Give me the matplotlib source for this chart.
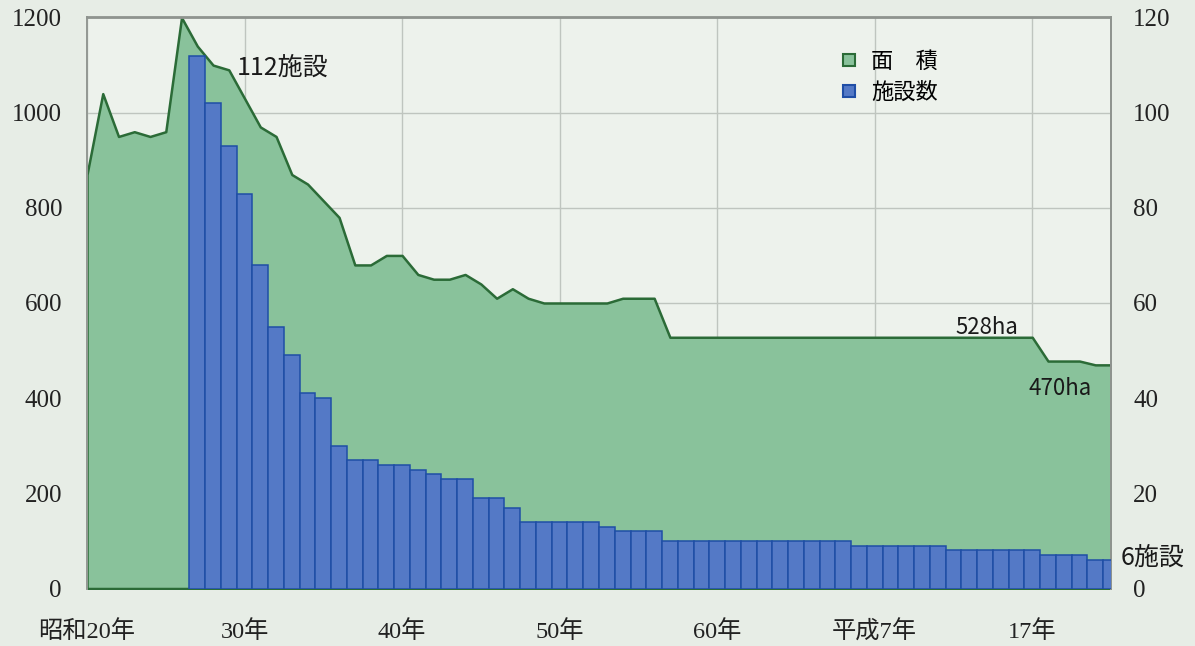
import numpy as np
import matplotlib
matplotlib.use("Agg")
import matplotlib.pyplot as plt
from matplotlib.lines import Line2D

plt.rcParams['font.family'] = ['Noto Sans CJK JP', 'DejaVu Sans']

# ---- data ----
years = np.arange(1945, 2011)          # 昭和20年 .. 平成22年
area_ha = [870, 1040, 950, 960, 950, 960, 1200, 1140, 1100, 1090,
           1030, 970, 950, 870, 850, 815, 780, 680, 680, 700,
           700, 660, 650, 650, 660, 640, 610, 630, 610, 600,
           600, 600, 600, 600, 610, 610, 610, 528, 528, 528,
           528, 528, 528, 528, 528, 528, 528, 528, 528, 528,
           528, 528, 528, 528, 528, 528, 528, 528, 528, 528,
           528, 478, 478, 478, 470, 470]

bar_years = np.arange(1952, 2011)
facilities = [112, 102, 93, 83, 68, 55, 49, 41, 40, 30,
              27, 27, 26, 26, 25, 24, 23, 23, 19, 19,
              17, 14, 14, 14, 14, 14, 13, 12, 12, 12,
              10, 10, 10, 10, 10, 10, 10, 10, 10, 10,
              10, 10, 9, 9, 9, 9, 9, 9, 8, 8,
              8, 8, 8, 8, 7, 7, 7, 6, 6]

xtick_years = [1945, 1955, 1965, 1975, 1985, 1995, 2005]
xtick_labels = ['昭和20年', '30年', '40年', '50年', '60年', '平成7年', '17年']
left_ticks = [0, 200, 400, 600, 800, 1000, 1200]
right_ticks = [0, 20, 40, 60, 80, 100, 120]

# ---- style ----
BG = '#e7ede6'
AX_BG = '#edf2ec'
AREA_FILL = '#89c29b'
AREA_LINE = '#2b6b37'
BAR_FILL = '#5479c6'
BAR_EDGE = '#1f4ea6'
GRID = '#bfc5bf'
tick_font = ['Liberation Serif', 'Noto Sans CJK JP']

fig = plt.figure(figsize=(11.95, 6.46), dpi=100, facecolor=BG)
ax = fig.add_axes([87 / 1195, 1 - 588.5 / 646, 1024 / 1195, 571 / 646])
ax.set_facecolor(AX_BG)

ax.fill_between(years, area_ha, 0, facecolor=AREA_FILL, edgecolor=AREA_LINE,
                linewidth=1.8, zorder=2)
ax.set_xlim(1945, 2010)
ax.set_ylim(0, 1200)
ax.set_yticks(left_ticks)
ax.set_xticks(xtick_years)
ax.set_xticklabels(xtick_labels)
ax.grid(True, color=GRID, linewidth=1.0)
ax.set_axisbelow(True)
ax.tick_params(axis='both', length=0, labelsize=18)
ax.tick_params(axis='y', pad=18)
ax.tick_params(axis='x', pad=23)
for lab in ax.get_xticklabels() + ax.get_yticklabels():
    lab.set_family(tick_font)
    lab.set_color('#222222')
for lab in ax.get_xticklabels():
    lab.set_fontsize(17.5)

ax2 = ax.twinx()
ax2.bar(bar_years, facilities, width=1.0, color=BAR_FILL, edgecolor=BAR_EDGE,
        linewidth=1.1, zorder=3)
ax2.set_ylim(0, 120)
ax2.set_xlim(1945, 2010)
ax2.set_yticks(right_ticks)
ax2.tick_params(axis='y', length=0, labelsize=18, pad=16)
for lab in ax2.get_yticklabels():
    lab.set_family(tick_font)
    lab.set_color('#222222')

for a in (ax, ax2):
    for side in ('top', 'right', 'left'):
        a.spines[side].set_color('#8f948f')
        a.spines[side].set_linewidth(1.3)
    a.spines['bottom'].set_visible(False)
ax.spines['left'].set_color('#c5cac5')

# annotations
ax.text(1954.5, 1094, '112施設', fontsize=18, ha='left', va='center', color='#1a1a1a')
ax.text(2002.1, 548, '528ha', fontsize=16, ha='center', va='center', color='#1a1a1a')
ax.text(2006.8, 421, '470ha', fontsize=16, ha='center', va='center', color='#1a1a1a')
ax2.text(2010.6, 6.4, '6施設', fontsize=18, ha='left', va='center',
         color='#1a1a1a', clip_on=False)

handles = [
    Line2D([], [], marker='s', linestyle='none', markersize=9,
           markerfacecolor=AREA_FILL, markeredgecolor=AREA_LINE, markeredgewidth=1.5),
    Line2D([], [], marker='s', linestyle='none', markersize=9,
           markerfacecolor=BAR_FILL, markeredgecolor=BAR_EDGE, markeredgewidth=1.5),
]
ax2.legend(handles, ['面　積', '施設数'], loc='upper left',
           bbox_to_anchor=((840 - 87) / 1024, 1 - (50 - 17.5) / 571),
           frameon=False, fontsize=16, handlelength=0.8, handletextpad=0.6,
           labelspacing=0.35, borderaxespad=0, borderpad=0)

fig.savefig('out.png', dpi=100, facecolor=BG)
